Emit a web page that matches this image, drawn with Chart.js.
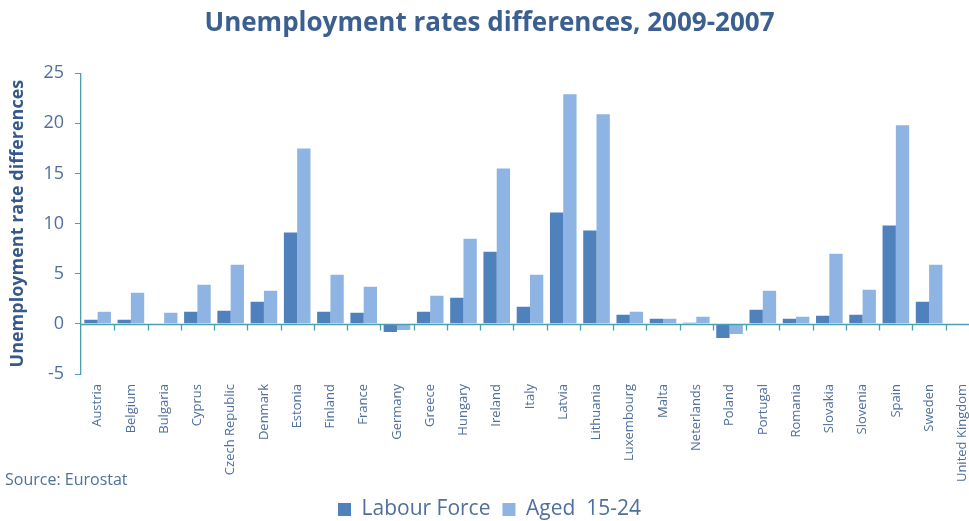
<!DOCTYPE html>
<html>
<head>
<meta charset="utf-8">
<script src="https://cdn.jsdelivr.net/npm/chart.js@4"></script>
<style>
  html, body { margin: 0; padding: 0; background: #fff; overflow: hidden; }
  #wrap { position: relative; width: 985px; height: 530px; }
  #source {
    position: absolute; left: 5px; top: 468px;
    font-family: "Open Sans", sans-serif; font-size: 16px; color: #50709c;
  }
</style>
</head>
<body>
<div id="wrap">
  <canvas id="unempChart" width="985" height="530"></canvas>
  <div id="source">Source: Eurostat</div>
</div>
<script>
const countries = ["Austria", "Belgium", "Bulgaria", "Cyprus", "Czech Republic", "Denmark", "Estonia",
    "Finland", "France", "Germany", "Greece", "Hungary", "Ireland", "Italy", "Latvia", "Lithuania",
    "Luxembourg", "Malta", "Neterlands", "Poland", "Portugal", "Romania", "Slovakia", "Slovenia",
    "Spain", "Sweden", "United Kingdom"];
const labourForce = [0.4, 0.4, 0, 1.2, 1.3, 2.2, 9.1, 1.2, 1.1, -0.8, 1.2, 2.6, 7.2, 1.7, 11.1, 9.3,
    0.9, 0.5, 0.1, -1.4, 1.4, 0.5, 0.8, 0.9, 9.8, 2.2, null];
const aged1524 = [1.2, 3.1, 1.1, 3.9, 5.9, 3.3, 17.5, 4.9, 3.7, -0.6, 2.8, 8.5, 15.5, 4.9, 22.9, 20.9,
    1.2, 0.5, 0.7, -1.0, 3.3, 0.7, 7.0, 3.4, 19.8, 5.9, null];
const yTicks = [-5, 0, 5, 10, 15, 20, 25];

const axisColor = '#4a9fb0';
const textColor = '#4f6f9c';

// zero line + little category ticks under it
const zeroLine = {
    id: 'zeroLine',
    afterDatasetsDraw(chart) {
        const { ctx, chartArea, scales } = chart;
        const y0 = Math.round(scales.y.getPixelForValue(0)) + 0.5;
        const x = scales.x;
        const step = x.getPixelForTick(1) - x.getPixelForTick(0);
        ctx.save();
        ctx.strokeStyle = axisColor;
        ctx.lineWidth = 1.3;
        ctx.beginPath();
        ctx.moveTo(chartArea.left, y0);
        ctx.lineTo(chartArea.right, y0);
        for (let i = 0; i < countries.length; i++) {
            const bx = Math.round(x.getPixelForTick(i) + step / 2) + 0.5;
            ctx.moveTo(bx, y0);
            ctx.lineTo(bx, y0 + 6);
        }
        ctx.stroke();
        ctx.restore();
    }
};

const ctx = document.getElementById('unempChart').getContext('2d');
new Chart(ctx, {
    type: 'bar',
    data: {
        labels: countries,
        datasets: [{
            label: 'Labour Force',
            data: labourForce,
            backgroundColor: '#4f81bd',
            categoryPercentage: 0.8,
            barPercentage: 1.0
        }, {
            label: 'Aged  15-24',
            data: aged1524,
            backgroundColor: '#8eb4e3',
            categoryPercentage: 0.8,
            barPercentage: 1.0
        }]
    },
    options: {
        responsive: false,
        animation: false,
        layout: { padding: { left: 0, right: 6, top: 0, bottom: 0 } },
        plugins: {
            title: {
                display: true,
                text: 'Unemployment rates differences, 2009-2007',
                color: '#3b5f8f',
                font: { family: 'Open Sans', size: 26, weight: 'bold' },
                padding: { top: 8, bottom: 34 }
            },
            legend: {
                position: 'bottom',
                labels: {
                    color: textColor,
                    font: { family: 'Open Sans', size: 21 },
                    boxWidth: 13,
                    boxHeight: 13,
                    padding: 12
                }
            },
            tooltip: { enabled: false }
        },
        scales: {
            x: {
                grid: { display: false },
                border: { display: false },
                ticks: {
                    color: textColor,
                    font: { family: 'Open Sans', size: 13 },
                    maxRotation: 90,
                    minRotation: 90,
                    autoSkip: false,
                    padding: 2
                },
                afterFit: s => { s.height = 113; }
            },
            y: {
                min: -5,
                max: 25,
                afterBuildTicks: s => { s.ticks = yTicks.map(v => ({ value: v })); },
                grid: {
                    drawOnChartArea: false,
                    tickLength: 6,
                    tickColor: axisColor
                },
                border: { color: axisColor, width: 1.3 },
                ticks: {
                    color: textColor,
                    font: { family: 'Open Sans', size: 18 },
                    padding: 11
                },
                title: {
                    display: true,
                    text: 'Unemployment rate differences',
                    color: '#36598c',
                    font: { family: 'Open Sans', size: 18, weight: 'bold' },
                    padding: { top: 7, bottom: 0 }
                },
                afterFit: s => { s.width = 81; }
            }
        }
    },
    plugins: [zeroLine]
});
</script>
</body>
</html>
